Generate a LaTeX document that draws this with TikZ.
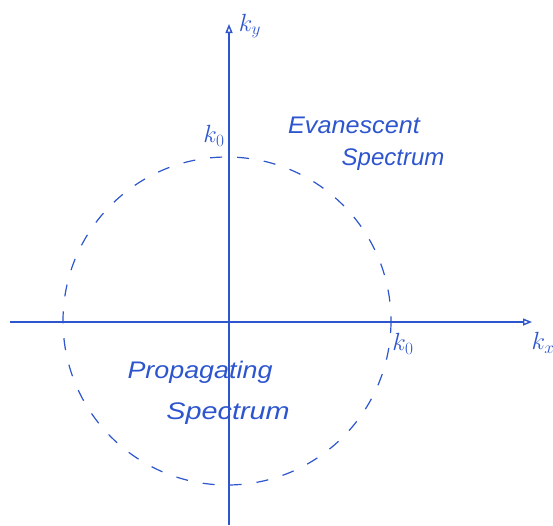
\documentclass[tikz,border=0pt]{standalone}
\usepackage{fontspec}
\setmainfont{Liberation Sans}
\usetikzlibrary{arrows.meta}
\definecolor{pen}{RGB}{45,85,205}
\begin{document}
\begin{tikzpicture}[x=1pt,y=-1pt,
  axis/.style={draw=pen,line width=1.4pt,-{Triangle[open,length=9pt,width=7pt]}},
  circ/.style={draw=pen,line width=1.2pt,dash pattern=on 12pt off 15pt},
  lbl/.style={text=pen,font=\fontsize{24}{28}\selectfont\itshape,inner sep=0pt},
  sym/.style={text=pen,font=\fontsize{24}{28}\selectfont,inner sep=0pt}]
\useasboundingbox (0,0) rectangle (553,525);
\coordinate (o) at (227,321);
\coordinate (xs) at (10,322);
\coordinate (xe) at (532,322);
\coordinate (ys) at (229,525);
\coordinate (ye) at (229,24);
\draw[circ] (o) circle[radius=164];
\draw[axis] (xs) -- (xe);
\draw[axis] (ys) -- (ye);
\node[sym] (ky) at (250,26) {$k_y$};
\node[sym] (kx) at (543,343) {$k_x$};
\node[sym] (k0t) at (214,136) {$k_0$};
\node[sym] (k0r) at (403,344) {$k_0$};
\node[lbl,xscale=1.05] (ev) at (354,125) {Evanescent};
\node[lbl] (es) at (393,160) {Spectrum};
\node[lbl,xscale=1.12] (pr) at (200,372) {Propagating};
\node[lbl,xscale=1.2] (ps) at (228,414) {Spectrum};
\end{tikzpicture}
\end{document}
